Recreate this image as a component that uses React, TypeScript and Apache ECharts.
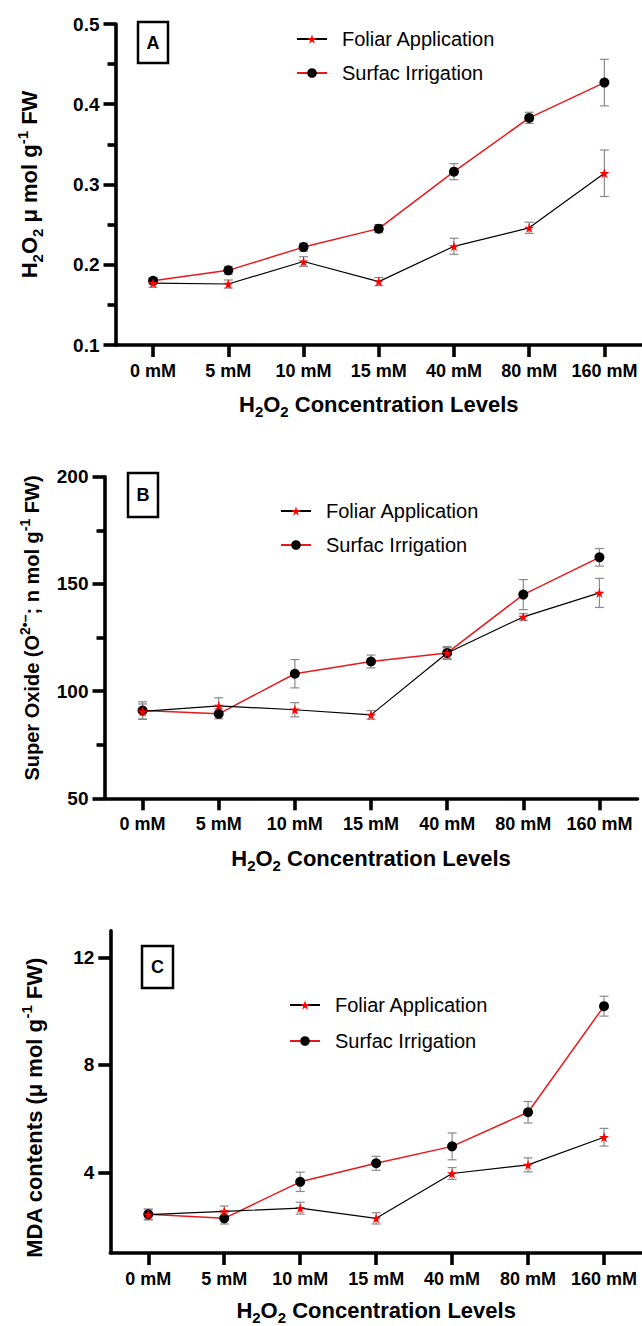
import { useEffect, useRef } from "react";
import * as echarts from "echarts";

const categories = ["0 mM", "5 mM", "10 mM", "15 mM", "40 mM", "80 mM", "160 mM"];

const h2o2Foliar = [0.177, 0.176, 0.204, 0.179, 0.223, 0.246, 0.314];
const h2o2FoliarErr = [0.005, 0.005, 0.006, 0.005, 0.01, 0.007, 0.029];
const h2o2Surfac = [0.18, 0.193, 0.222, 0.245, 0.316, 0.383, 0.427];
const h2o2SurfacErr = [0.004, 0.005, 0.005, 0.005, 0.01, 0.007, 0.029];

const soFoliar = [90.5, 93.1, 91.3, 88.9, 117.8, 134.6, 145.8];
const soFoliarErr = [3.5, 3.8, 3.3, 2, 2.5, 1.5, 6.8];
const soSurfac = [90.9, 89.4, 108.1, 113.8, 117.8, 145, 162.4];
const soSurfacErr = [4.1, 2.3, 6.6, 3, 3, 7, 4.1];

const mdaFoliar = [2.43, 2.55, 2.67, 2.29, 3.96, 4.28, 5.31];
const mdaFoliarErr = [0.2, 0.2, 0.22, 0.21, 0.22, 0.26, 0.33];
const mdaSurfac = [2.44, 2.29, 3.65, 4.34, 4.97, 6.24, 10.19];
const mdaSurfacErr = [0.19, 0.21, 0.36, 0.26, 0.5, 0.4, 0.37];

const mdaMajorTicks = [4, 8, 12];
const mdaMinorTicks = [2, 6, 10];

const seriesNames = ["Foliar Application", "Surfac Irrigation"];
const panelLetters = ["A", "B", "C"];

const FF = "'Liberation Sans', Arial, Helvetica, sans-serif";
const STAR = "path://M50,0 L61,35 L98,35 L68,57 L79,91 L50,70 L21,91 L32,57 L2,35 L39,35 Z";

function makeRich(s: number) {
  const ss = Math.round(s * 0.68);
  return {
    n: { fontSize: s, fontWeight: "bold", fontFamily: FF, color: "#000", lineHeight: s + 1, padding: [4, 0, 2, 0], verticalAlign: "top" },
    sub: { fontSize: ss, fontWeight: "bold", fontFamily: FF, color: "#000", lineHeight: ss, padding: [ss, 0, 0, 0], verticalAlign: "top" },
    sup: { fontSize: ss, fontWeight: "bold", fontFamily: FF, color: "#000", lineHeight: ss, padding: [0, 0, ss, 0], verticalAlign: "top" },
  };
}

const xName = "{n|H}{sub|2}{n|O}{sub|2}{n| Concentration Levels}";
const yNames = [
  "{n|H}{sub|2}{n|O}{sub|2}{n| μ mol g}{sup|-1}{n| FW}",
  "{n|Super Oxide (O}{sup|2•–}{n|; n mol g}{sup|-1}{n| FW)}",
  "{n|MDA contents (μ mol g}{sup|-1}{n| FW)}",
];

const grids = [
  { left: 115.5, top: 24, width: 533, height: 321 },
  { left: 104.5, top: 476.7, width: 533, height: 321.6 },
  { left: 110.3, top: 930.7, width: 533, height: 323.3 },
];
const yNameGaps = [78, 53, 68];
const yNameSizes = [22, 20, 22];
const yNamePads = [[0, 0, 0, 0], [0, 0, 0, 19], [0, 32, 0, 0]];
const xNameGaps = [44, 45, 42];

function errorSeries(idx: number, means: number[], errs: number[]) {
  return {
    type: "custom",
    xAxisIndex: idx,
    yAxisIndex: idx,
    z: 2,
    silent: true,
    data: means.map((m, i) => [i, m - errs[i], m + errs[i]]),
    encode: { x: 0, y: [1, 2] },
    renderItem: (params: any, api: any) => {
      const x = api.value(0);
      const lo = api.coord([x, api.value(1)]);
      const hi = api.coord([x, api.value(2)]);
      const hw = 4.5;
      const style = { stroke: "#8a8a8a", lineWidth: 1.2 };
      return {
        type: "group",
        children: [
          { type: "line", shape: { x1: lo[0], y1: lo[1], x2: hi[0], y2: hi[1] }, style },
          { type: "line", shape: { x1: lo[0] - hw, y1: lo[1], x2: lo[0] + hw, y2: lo[1] }, style },
          { type: "line", shape: { x1: hi[0] - hw, y1: hi[1], x2: hi[0] + hw, y2: hi[1] }, style },
        ],
      };
    },
  };
}

function foliarSeries(idx: number, data: number[]) {
  return {
    name: seriesNames[0],
    type: "line",
    xAxisIndex: idx,
    yAxisIndex: idx,
    data,
    z: 4,
    symbol: STAR,
    symbolSize: 10,
    itemStyle: { color: "#ff0000" },
    lineStyle: { color: "#000", width: 1.2 },
  };
}

function surfacSeries(idx: number, data: number[]) {
  return {
    name: seriesNames[1],
    type: "line",
    xAxisIndex: idx,
    yAxisIndex: idx,
    data,
    z: 3,
    symbol: "circle",
    symbolSize: 10,
    itemStyle: { color: "#000" },
    lineStyle: { color: "#e8191c", width: 1.5 },
  };
}

const AXW = 3.6;
const axisLine = { show: true, lineStyle: { color: "#000", width: AXW } };
const tickStyle = { color: "#000", width: AXW };
const labelFont = { fontWeight: "bold", color: "#000", fontFamily: FF };

export default function App() {
  const ref = useRef<HTMLDivElement>(null);
  useEffect(() => {
    document.body.style.margin = "0";
    if (!ref.current) return;
    const chart = echarts.init(ref.current, null, { renderer: "svg" });

    const xAxes = grids.map((_, i) => ({
      type: "category",
      gridIndex: i,
      data: categories,
      boundaryGap: true,
      axisLine,
      axisTick: { show: true, alignWithLabel: true, length: 12, lineStyle: tickStyle },
      axisLabel: { ...labelFont, fontSize: 18, margin: 17, interval: 0 },
      splitLine: { show: false },
      name: xName,
      nameLocation: "middle",
      nameGap: xNameGaps[i],
      nameTextStyle: { rich: makeRich(22) },
    }));

    const yBase = (i: number) => ({
      type: "value",
      gridIndex: i,
      axisLine,
      splitLine: { show: false },
      name: yNames[i],
      nameLocation: "middle",
      nameRotate: 90,
      nameGap: yNameGaps[i],
      nameTextStyle: { rich: makeRich(yNameSizes[i]), padding: yNamePads[i] },
    });

    const yLabel = { ...labelFont, fontSize: 19, margin: 16 };

    const yAxes: any[] = [
      {
        ...yBase(0),
        min: 0.1,
        max: 0.5,
        interval: 0.1,
        axisTick: { show: true, length: 12, lineStyle: tickStyle },
        minorTick: { show: true, splitNumber: 2, length: 8, lineStyle: tickStyle },
        axisLabel: { ...yLabel, formatter: (v: number) => v.toFixed(1) },
      },
      {
        ...yBase(1),
        min: 50,
        max: 200,
        interval: 50,
        axisTick: { show: true, length: 12, lineStyle: tickStyle },
        minorTick: { show: true, splitNumber: 2, length: 8, lineStyle: tickStyle },
        axisLabel: yLabel,
      },
      {
        ...yBase(2),
        min: 1,
        max: 13,
        axisTick: { show: true, length: 12, customValues: mdaMajorTicks, lineStyle: tickStyle },
        axisLabel: { ...yLabel, customValues: mdaMajorTicks },
      },
      {
        type: "value",
        gridIndex: 2,
        min: 1,
        max: 13,
        axisLine: { show: false },
        splitLine: { show: false },
        axisLabel: { show: false },
        axisTick: { show: true, length: 8, customValues: mdaMinorTicks, lineStyle: tickStyle },
      },
    ];

    const legendPos = [
      { left: 296, top: 29, itemGap: 14 },
      { left: 280, top: 501, itemGap: 14 },
      { left: 289, top: 995, itemGap: 16 },
    ];

    const boxes = [
      { x: 138, y: 22, w: 30, h: 41 },
      { x: 128, y: 473, w: 30, h: 44 },
      { x: 142, y: 946, w: 31, h: 42 },
    ];

    const graphic: any[] = [];
    boxes.forEach((b, i) => {
      graphic.push({
        type: "rect",
        shape: { x: b.x, y: b.y, width: b.w, height: b.h },
        style: { fill: "#fff", stroke: "#000", lineWidth: 2.5 },
        z: 10,
      });
      graphic.push({
        type: "text",
        x: b.x + b.w / 2,
        y: b.y + b.h / 2,
        z: 11,
        style: {
          text: panelLetters[i],
          font: `bold 18px ${FF}`,
          fill: "#000",
          align: "center",
          verticalAlign: "middle",
          textAlign: "center",
          textVerticalAlign: "middle",
        },
      });
    });

    chart.setOption({
      animation: false,
      backgroundColor: "#fff",
      grid: grids,
      xAxis: xAxes,
      yAxis: yAxes,
      legend: legendPos.map((p) => ({
        data: seriesNames,
        orient: "vertical",
        left: p.left,
        top: p.top,
        padding: 0,
        itemGap: p.itemGap,
        itemWidth: 30,
        itemHeight: 12,
        selectedMode: false,
        textStyle: { fontSize: 20, fontFamily: FF, color: "#000", lineHeight: 20, padding: [0, 0, 0, 10] },
      })),
      graphic,
      series: [
        errorSeries(0, h2o2Surfac, h2o2SurfacErr),
        errorSeries(0, h2o2Foliar, h2o2FoliarErr),
        surfacSeries(0, h2o2Surfac),
        foliarSeries(0, h2o2Foliar),
        errorSeries(1, soSurfac, soSurfacErr),
        errorSeries(1, soFoliar, soFoliarErr),
        surfacSeries(1, soSurfac),
        foliarSeries(1, soFoliar),
        errorSeries(2, mdaSurfac, mdaSurfacErr),
        errorSeries(2, mdaFoliar, mdaFoliarErr),
        surfacSeries(2, mdaSurfac),
        foliarSeries(2, mdaFoliar),
      ],
    });
    return () => chart.dispose();
  }, []);
  return <div ref={ref} style={{ width: 642, height: 1326 }} />;
}
